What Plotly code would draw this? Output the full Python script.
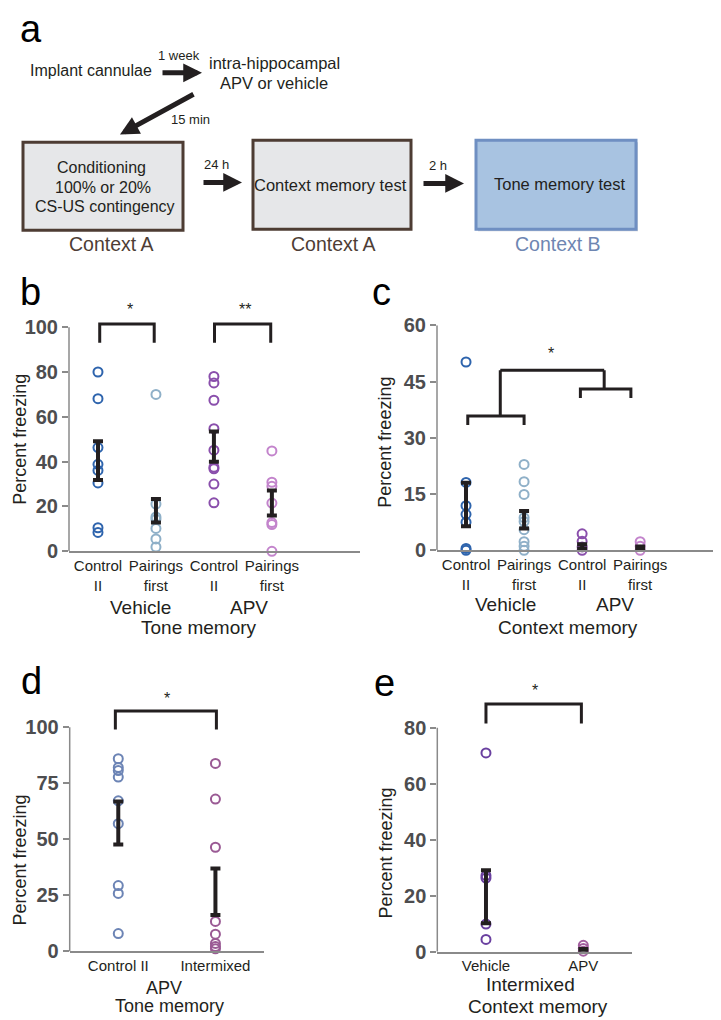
import plotly.graph_objects as go

W, H = 721, 1020

# ---------------- data ----------------
# panel b: tone memory
b_categories = ["Control<br>II", "Pairings<br>first", "Control<br>II", "Pairings<br>first"]
b_veh_ctrl = [80.0, 68.1, 46.3, 38.8, 36.1, 30.5, 10.5, 8.4]
b_veh_pair = [70.0, 21.1, 15.3, 14.3, 10.2, 5.5, 1.9]
b_apv_ctrl = [78.0, 75.1, 67.4, 54.7, 45.1, 37.5, 36.8, 30.0, 21.6]
b_apv_pair = [44.8, 30.8, 29.0, 21.5, 12.8, 11.9, 0.0]
b_means = [40.45, 18.05, 46.75, 21.55]
b_sems = [8.65, 5.25, 6.75, 5.55]
b_ticks = [0, 20, 40, 60, 80, 100]

# panel c: context memory
c_categories = ["Control<br>II", "Pairings<br>first", "Control<br>II", "Pairings<br>first"]
c_veh_ctrl = [50.2, 18.1, 11.9, 9.6, 7.5, 0.5, 0.0]
c_veh_pair = [22.9, 18.3, 14.9, 8.7, 7.7, 5.5, 2.3, 1.1, 0.0]
c_apv_ctrl = [4.4, 2.4, 0.9, 0.0]
c_apv_pair = [2.3, 1.1, 0.0]
c_means = [12.2, 8.15, 1.0, 0.6]
c_sems = [5.8, 2.35, 0.6, 0.4]
c_ticks = [0, 15, 30, 45, 60]

# panel d: APV tone memory
d_categories = ["Control II", "Intermixed"]
d_ctrl = [86.0, 82.1, 80.7, 77.8, 67.2, 57.0, 29.4, 25.9, 8.0]
d_inter = [83.9, 68.0, 46.5, 13.4, 7.7, 3.6, 2.2, 1.2]
d_means = [57.3, 26.65]
d_sems = [9.6, 10.35]
d_ticks = [0, 25, 50, 75, 100]

# panel e: intermixed context memory
e_categories = ["Vehicle", "APV"]
e_veh = [71.0, 27.2, 26.3, 9.9, 4.4]
e_apv = [2.3, 1.2, 0.2]
e_means = [19.65, 0.6]
e_sems = [9.45, 0.4]
e_ticks = [0, 20, 40, 60, 80]

# ---------------- helpers ----------------
def px(x):
    return x / W

def py(y):
    return 1 - y / H

FONT = "Liberation Sans, Arial, Helvetica, sans-serif"
DARK = "#231f20"
AXC = "#8a8a8a"

fig = go.Figure()
shapes = []
annotations = []

def ann(text, x, y, size, color=DARK, angle=0, xanchor="center", yanchor="middle", weight="normal"):
    annotations.append(dict(text=text, x=px(x), y=py(y), xref="paper", yref="paper",
                            showarrow=False, xanchor=xanchor, yanchor=yanchor,
                            textangle=angle,
                            font=dict(family=FONT, size=size, color=color, weight=weight)))

def arrow(tail, tip):
    annotations.append(dict(text="", x=px(tip[0]), y=py(tip[1]), xref="paper", yref="paper",
                            ax=tail[0] - tip[0], ay=tail[1] - tip[1],
                            showarrow=True, arrowhead=2, arrowsize=0.75, arrowwidth=5,
                            arrowcolor=DARK, standoff=0, startstandoff=0))

# ---------------- panel a (diagram) ----------------
ann("a", 23, 10, 38, color="#000")
ann("Implant cannulae", 83, 53, 16)
ann("1 week", 171, 37, 13)
ann("intra-hippocampal", 266, 45, 16.5)
ann("APV or vehicle", 266, 65, 16.5)
arrow((153, 55), (194, 55))
arrow((187, 77), (112, 118))
ann("15 min", 182, 103, 13)

box_brown = "#4d3c33"
shapes.append(dict(type="rect", xref="paper", yref="paper", x0=px(15), x1=px(175), y0=py(126), y1=py(216),
                   fillcolor="#e6e7e9", line=dict(color=box_brown, width=3), layer="below"))
shapes.append(dict(type="rect", xref="paper", yref="paper", x0=px(245), x1=px(403), y0=py(124), y1=py(215),
                   fillcolor="#e6e7e9", line=dict(color=box_brown, width=3), layer="below"))
shapes.append(dict(type="rect", xref="paper", yref="paper", x0=px(470), x1=px(630), y0=py(126), y1=py(217),
                   fillcolor="#c9cfd8", line=dict(width=0), layer="below"))
shapes.append(dict(type="rect", xref="paper", yref="paper", x0=px(468), x1=px(628), y0=py(124), y1=py(215),
                   fillcolor="#a8c3e1", line=dict(color="#6f8fc2", width=3), layer="below"))

ann("Conditioning", 93, 152, 16)
ann("100% or 20%", 95, 172, 16)
ann("CS-US contingency", 97, 192, 16)
ann("Context A", 103, 230, 19.5, color="#4e3d35")
ann("24 h", 208, 149, 13)
arrow((194, 167), (234, 167))
ann("Context memory test", 322, 170, 16.5)
ann("Context A", 325, 230, 19.5, color="#4e3d35")
ann("2 h", 430, 150, 13)
arrow((414, 168), (456, 168))
ann("Tone memory test", 552, 169, 16.5)
ann("Context B", 550, 230, 19.5, color="#6e86b2")

# ---------------- axes ----------------
def set_axes(n, xdom_px, xrange, ydom_px, yrange, yticks, ticktext, catpos, tickfontsize=15):
    xa = "xaxis" if n == 1 else f"xaxis{n}"
    ya = "yaxis" if n == 1 else f"yaxis{n}"
    yid = "y" if n == 1 else f"y{n}"
    xid = "x" if n == 1 else f"x{n}"
    fig.update_layout(**{
        xa: dict(domain=[px(xdom_px[0]), px(xdom_px[1])], range=xrange, showgrid=False, zeroline=False,
                 showline=True, linecolor=AXC, linewidth=1.5, ticks="",
                 tickvals=catpos, ticktext=ticktext,
                 tickfont=dict(family=FONT, size=tickfontsize, color=DARK),
                 anchor=yid, fixedrange=True),
        ya: dict(domain=[py(ydom_px[1]), py(ydom_px[0])], range=yrange, showgrid=False, zeroline=False,
                 showline=False, ticks="outside", ticklen=6, tickcolor=AXC, tickwidth=1.5,
                 tickvals=yticks,
                 tickfont=dict(family=FONT, size=20, color="#4d4d4f", weight="bold"),
                 anchor=xid, fixedrange=True),
    })
    # y-axis line only up to the top tick
    shapes.append(dict(type="line", xref="paper", yref=yid, x0=px(xdom_px[0]), x1=px(xdom_px[0]),
                       y0=0, y1=yticks[-1], line=dict(color=AXC, width=1.5)))
    return xid, yid

def dots(xid, yid, xpos, vals, color):
    fig.add_trace(go.Scatter(x=[xpos] * len(vals), y=vals, mode="markers", xaxis=xid, yaxis=yid,
                             marker=dict(symbol="circle-open", size=9, color=color, line=dict(width=2, color=color)),
                             cliponaxis=False, showlegend=False, hoverinfo="y"))

def errbars(xid, yid, xs, means, sems):
    fig.add_trace(go.Scatter(x=xs, y=means, mode="markers", xaxis=xid, yaxis=yid,
                             marker=dict(size=1, color="rgba(0,0,0,0)"),
                             error_y=dict(type="data", array=sems, visible=True, color=DARK, thickness=4, width=5),
                             cliponaxis=False, showlegend=False, hoverinfo="skip"))

def bracket(xid, yid, x0, x1, ytop, ybot, width=3):
    shapes.append(dict(type="path", xref=xid, yref=yid,
                       path=f"M {x0},{ybot} L {x0},{ytop} L {x1},{ytop} L {x1},{ybot}",
                       line=dict(color=DARK, width=width)))

def seg(xid, yid, x0, y0, x1, y1, width=3):
    shapes.append(dict(type="line", xref=xid, yref=yid, x0=x0, y0=y0, x1=x1, y1=y1,
                       line=dict(color=DARK, width=width)))

# panel b
xb, yb = set_axes(1, (61, 352), [0.5, 5.52], (287.5, 544), [0, 112], b_ticks, b_categories, [1, 2, 3, 4])
dots(xb, yb, 1, b_veh_ctrl, "#2e64ad")
dots(xb, yb, 2, b_veh_pair, "#8fb0c8")
dots(xb, yb, 3, b_apv_ctrl, "#8a4fac")
dots(xb, yb, 4, b_apv_pair, "#c384cc")
errbars(xb, yb, [1, 2, 3, 4], b_means, b_sems)
bracket(xb, yb, 1.03, 1.97, 101.4, 93)
bracket(xb, yb, 3.01, 3.98, 101.4, 93)
ann("b", 22, 279, 38, color="#000")
ann("*", 122, 297, 16)
ann("**", 237, 297, 16)
ann("Percent freezing", 12, 430, 18, angle=-90)
ann("Vehicle", 132, 601, 19)
ann("APV", 241, 601, 19)
ann("Tone memory", 191, 622, 19)

# panel c
xc, yc = set_axes(2, (429, 721), [0.5, 5.53], (313, 543), [0, 60], c_ticks, c_categories, [1, 2, 3, 4])
dots(xc, yc, 1, c_veh_ctrl, "#2e64ad")
dots(xc, yc, 2, c_veh_pair, "#8fb0c8")
dots(xc, yc, 3, c_apv_ctrl, "#8a4fac")
dots(xc, yc, 4, c_apv_pair, "#c384cc")
errbars(xc, yc, [1, 2, 3, 4], c_means, c_sems)
bracket(xc, yc, 1.03, 2.0, 35.8, 33.4)
bracket(xc, yc, 2.97, 3.84, 43.0, 40.6)
seg(xc, yc, 1.59, 48.0, 3.38, 48.0)
seg(xc, yc, 1.59, 48.0, 1.59, 35.8)
seg(xc, yc, 3.38, 48.0, 3.38, 43.0)
ann("c", 373, 279, 38, color="#000")
ann("*", 543, 342, 16)
ann("Percent freezing", 377, 433, 18, angle=-90)
ann("Vehicle", 497, 598, 19)
ann("APV", 607, 598, 19)
ann("Context memory", 560, 622, 19)

# panel d
xd, yd = set_axes(3, (61.7, 256), [0.5, 2.5], (696.5, 953), [0, 112], d_ticks, d_categories, [1, 2])
dots(xd, yd, 1, d_ctrl, "#6c84b5")
dots(xd, yd, 2, d_inter, "#9a5a94")
errbars(xd, yd, [1, 2], d_means, d_sems)
bracket(xd, yd, 0.97, 2.01, 107.3, 99)
ann("d", 23, 677, 38, color="#000")
ann("*", 159, 694, 16)
ann("Percent freezing", 12, 860, 18, angle=-90)
ann("APV", 156, 990, 18)
ann("Tone memory", 161, 1009, 18)

# panel e
xe, ye = set_axes(4, (429.3, 624), [0.5, 2.5], (690, 953.3), [0, 92], e_ticks, e_categories, [1, 2])
dots(xe, ye, 1, e_veh, "#6a40a0")
dots(xe, ye, 2, e_apv, "#a35f9f")
errbars(xe, ye, [1, 2], e_means, e_sems)
bracket(xe, ye, 1.0, 1.98, 88.5, 81.5)
ann("e", 376, 679, 38, color="#000")
ann("*", 527, 686, 16)
ann("Percent freezing", 378, 853, 18, angle=-90)
ann("Intermixed", 522, 987, 19)
ann("Context memory", 530, 1009, 19)

fig.update_layout(width=W, height=H, margin=dict(l=0, r=0, t=0, b=0),
                  paper_bgcolor="white", plot_bgcolor="white",
                  shapes=shapes, annotations=annotations, showlegend=False,
                  font=dict(family=FONT, color=DARK))

fig.write_html("out.html", config={"displayModeBar": False})
